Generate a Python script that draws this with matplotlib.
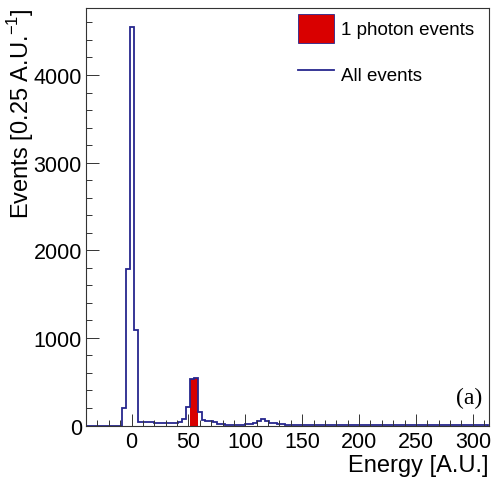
import numpy as np
import matplotlib
matplotlib.use("Agg")
import matplotlib.pyplot as plt
from matplotlib.patches import Patch
from matplotlib.lines import Line2D
from matplotlib.ticker import MultipleLocator

plt.rcParams['font.family'] = ['Liberation Sans', 'DejaVu Sans']
plt.rcParams['mathtext.fontset'] = 'custom'
plt.rcParams['mathtext.rm'] = 'Liberation Sans'

# histogram binning (A.U.)
bin_start = -40.0
bin_width = 3.5
n_bins = 101

# all events, per bin
all_events = [0, 0, 0, 0, 0, 0, 0, 0, 0,
              203, 1787, 4544, 1088,
              45, 42, 38, 36, 34, 32, 30, 28, 27, 30, 38, 70,
              214, 535, 546, 150,
              66, 48, 48, 45, 20, 12, 10, 8, 8, 8, 10, 12, 18, 30,
              55, 74, 48, 30, 25, 18, 14, 10,
              9, 8, 7, 7, 6, 6, 5, 5, 5, 4, 4, 4, 4, 3, 3, 3, 3, 3,
              2, 2, 2, 2, 2, 2, 2, 2, 2, 2, 1, 1, 1, 1, 1, 1, 1, 1,
              1, 1, 1, 1, 1, 1, 1, 1, 1, 1, 1, 1, 1, 1]
# 1 photon events: only the two bins of the photon peak
photon_bins = [26, 27]
photon_counts = [535, 546]

edges = bin_start + bin_width * np.arange(n_bins + 1)
blue = np.array(all_events, dtype=float)
red = np.zeros(n_bins)
red[photon_bins] = photon_counts

navy = '#26268e'
fill_red = '#d90000'

fig = plt.figure(figsize=(4.91, 4.81), dpi=100)
ax = fig.add_axes([0.1752, 0.1133, 0.8203, 0.869])

ax.stairs(red, edges, fill=True, color=fill_red, lw=0)
ax.stairs(blue, edges, color=navy, lw=1.3)

ax.set_xlim(-40, 314)
ax.set_ylim(0, 4770)

ax.xaxis.set_major_locator(MultipleLocator(50))
ax.xaxis.set_minor_locator(MultipleLocator(10))
ax.yaxis.set_major_locator(MultipleLocator(1000))
ax.yaxis.set_minor_locator(MultipleLocator(200))
ax.tick_params(which='both', direction='in', top=False, right=False,
               width=0.7, color='#333333', labelsize=15.5)
ax.tick_params(which='major', length=9)
ax.tick_params(which='minor', length=4.3)
ax.tick_params(axis='x', pad=4)
ax.tick_params(axis='y', pad=3)
for s in ax.spines.values():
    s.set_linewidth(0.8)
    s.set_color('#333333')

ax.set_xlabel('Energy [A.U.]', fontsize=17, loc='right')
ax.xaxis.set_label_coords(1.0, -0.069)
ax.set_ylabel('Events [0.25 A.U.$^{-1}$]', fontsize=17, loc='top')
ax.yaxis.set_label_coords(-0.125, 1.0)

ax.text(0.983, 0.068, '(a)', transform=ax.transAxes, ha='right', va='center',
        fontsize=17, family='Liberation Serif')

handles = [Patch(facecolor=fill_red, edgecolor=navy, linewidth=0.6),
           Line2D([0], [0], color=navy, lw=1.3)]
ax.legend(handles, ['1 photon events', 'All events'], loc='upper left',
          bbox_to_anchor=(298 / 491, 1 - 15 / 481), bbox_transform=fig.transFigure,
          frameon=False, fontsize=13.5, handlelength=1.92, handleheight=2.0,
          handletextpad=0.37, labelspacing=0.88, borderpad=0, borderaxespad=0)

fig.savefig('out.png', dpi=100)
